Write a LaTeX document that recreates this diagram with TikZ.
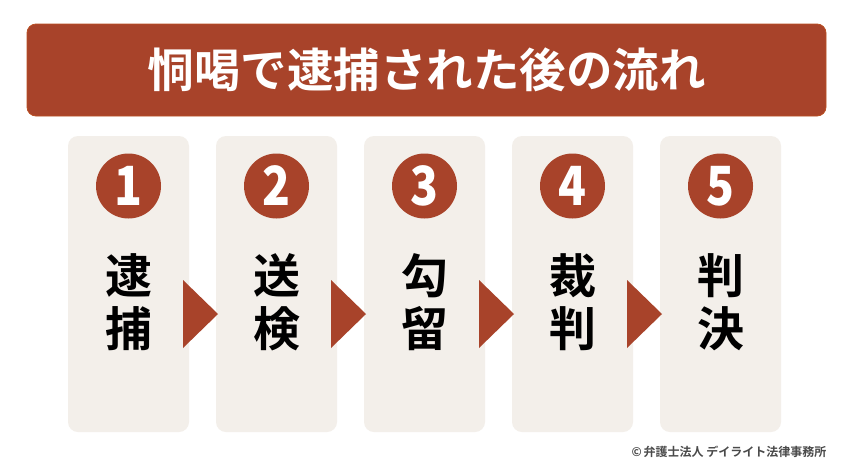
\documentclass[tikz,border=0pt]{standalone}
\usepackage{fontspec}
\newfontfamily\jp{Noto Sans CJK JP Bold}
\newfontfamily\jpblack{Noto Sans CJK JP Black}
\definecolor{rust}{HTML}{A8432A}
\definecolor{card}{HTML}{F3EFEA}
\definecolor{credit}{HTML}{4A4A4A}
\tikzset{
  banner/.style={fill=rust, draw=rust!80!orange, line width=0.8pt, rounded corners=9pt},
  cardbox/.style={fill=card, rounded corners=10pt, minimum width=121pt, minimum height=296pt, inner sep=0pt},
  numdot/.style={circle, fill=rust, minimum size=65pt, inner sep=0pt, text=white},
  numtext/.style={text=white, inner sep=0pt, font=\jpblack\fontsize{54}{54}\selectfont},
  steptext/.style={font=\jp\fontsize{47}{53}\selectfont, align=center, text=black},
  nextarrow/.style={fill=rust},
}
\begin{document}
\begin{tikzpicture}[x=1pt,y=-1pt]
\useasboundingbox (0,0) rectangle (850,472);
\fill[white] (0,0) rectangle (850,472);
\draw[banner] (27,24) rectangle (826,116);
\node[text=white, font=\jp\fontsize{46.5}{46.5}\selectfont] (title) at (426.5,70) {恫喝で逮捕された後の流れ};
\foreach \i/\lab in {1/{逮\\捕},2/{送\\検},3/{勾\\留},4/{裁\\判},5/{判\\決}} {
  \pgfmathsetmacro{\cx}{128.5+148*(\i-1)}
  \node[cardbox] (c\i) at (\cx,284) {};
  \node[numdot] (n\i) at (\cx,186) {};
  \node[numtext, xscale=0.85] (d\i) at (n\i) {\i};
  \node[steptext] (t\i) at (\cx,302) {\lab};
}
\foreach \i in {1,2,3,4} {
  \pgfmathsetmacro{\ax}{183+148*(\i-1)}
  \coordinate (a\i) at (\ax,280);
  \fill[nextarrow] (a\i) -- ++(35,34) -- ++(-35,34) -- cycle;
}
\node[text=credit, font=\jp\fontsize{12}{12}\selectfont, anchor=east] (credit) at (830,452) {©\,弁護士法人 デイライト法律事務所};
\end{tikzpicture}
\end{document}
